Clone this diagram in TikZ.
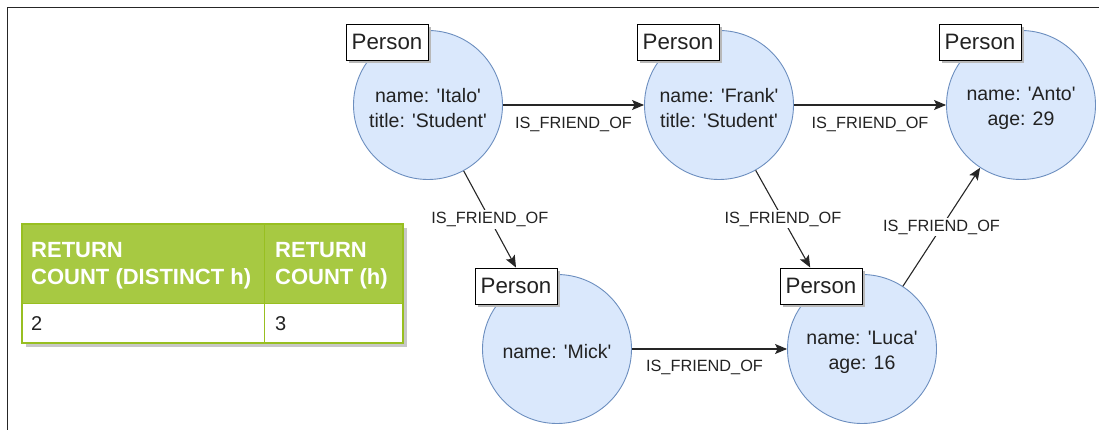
\documentclass[tikz,border=0pt]{standalone}
\usepackage{fontspec}
\setmainfont{Liberation Sans}[Ligatures=TeXOff]
\usetikzlibrary{arrows.meta,shadows,calc}
\definecolor{nodefill}{HTML}{DAE8FC}
\definecolor{nodeline}{HTML}{6C8EBF}
\definecolor{hdrfill}{HTML}{A7C942}
\definecolor{tblline}{HTML}{98BF21}
\definecolor{ink}{HTML}{222222}
\begin{document}
\begin{tikzpicture}[x=1pt,y=-1pt,
  person/.style={circle, draw=nodeline, fill=nodefill, line width=0.9pt,
    minimum size=149pt, inner sep=0pt},
  props/.style={inner sep=0pt, align=center, yshift=-3pt,
    font=\fontsize{19.5}{25}\selectfont, text=ink},
  tag/.style={draw=black, fill=white, line width=0.9pt, minimum width=82pt,
    minimum height=36pt, inner sep=0pt, font=\fontsize{22.3}{26}\selectfont,
    text=ink, general shadow={fill=black!28, shadow xshift=3pt, shadow yshift=-3pt}},
  rel/.style={draw=black!85, line width=1.1pt,
    -{Stealth[length=12pt,width=10pt,inset=2.5pt]}},
  lbl/.style={fill=white, inner sep=2pt, font=\fontsize{16.3}{18}\selectfont, text=ink},
  hdr/.style={inner sep=0pt, anchor=base west, text=white,
    font=\bfseries\fontsize{22}{26}\selectfont},
  cell/.style={inner sep=0pt, anchor=base west, text=ink,
    font=\fontsize{20}{24}\selectfont},
]
\useasboundingbox (0,0) rectangle (1099,430);

% frame
\draw[line width=1pt, black!85] (1099,8) -- (7,8) -- (7,430);

% result table
\fill[black!22] (26,228) rectangle (407,347);
\fill[hdrfill] (22,224) rectangle (403,303);
\fill[white] (22,303) rectangle (403,343);
\draw[tblline, line width=1pt] (264,224) -- (264,343);
\draw[tblline, line width=1pt] (22,303) -- (403,303);
\draw[tblline, line width=1.5pt] (22,224) rectangle (403,343);
\node[hdr] (h1a) at (31,258) {RETURN};
\node[hdr] (h1b) at (31,284) {COUNT (DISTINCT h)};
\node[hdr] (h2a) at (275,258) {RETURN};
\node[hdr] (h2b) at (275,284) {COUNT (h)};
\node[cell] (c1) at (31,330) {2};
\node[cell] (c2) at (275,330) {3};

% people
\node[person] (italo) at (428,105) {};
\node[person] (frank) at (719,105) {};
\node[person] (anto)  at (1021,105) {};
\node[person] (mick)  at (557,349) {};
\node[person] (luca)  at (862,349) {};

\node[props] (italoP) at (italo) {name: 'Italo'\\title: 'Student'};
\node[props] (frankP) at (frank) {name: 'Frank'\\title: 'Student'};
\node[props] (antoP)  at (anto)  {name: 'Anto'\\age: 29};
\node[props] (mickP)  at (mick)  {name: 'Mick'};
\node[props] (lucaP)  at (luca)  {name: 'Luca'\\age: 16};

\node[tag] (italoT) at (387,42) {Person};
\node[tag] (frankT) at (678,42) {Person};
\node[tag] (antoT)  at (980,42) {Person};
\node[tag] (mickT)  at (516,286) {Person};
\node[tag] (lucaT)  at (821,286) {Person};

\coordinate (lucaIn) at ($(lucaT.north west)!0.37!(lucaT.north east)$);

% friendships
\draw[rel] (italo) -- node[lbl, yshift=-19pt] (e1) {IS\_FRIEND\_OF} (frank);
\draw[rel] (frank) -- node[lbl, yshift=-19pt] (e2) {IS\_FRIEND\_OF} (anto);
\draw[rel] (italo) -- node[lbl] (e3) {IS\_FRIEND\_OF} (mickT.north);
\draw[rel] (frank) -- node[lbl] (e4) {IS\_FRIEND\_OF} (lucaIn);
\draw[rel] (mick) -- node[lbl, yshift=-18pt, xshift=-5pt] (e5) {IS\_FRIEND\_OF} (luca);
\draw[rel] (luca) -- node[lbl] (e6) {IS\_FRIEND\_OF} (anto);
\end{tikzpicture}
\end{document}
